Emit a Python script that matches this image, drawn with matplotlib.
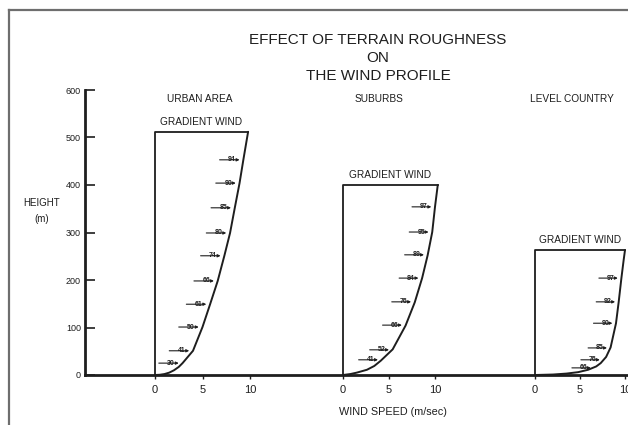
import matplotlib
matplotlib.use("Agg")
import matplotlib.pyplot as plt
from matplotlib.lines import Line2D

plt.rcParams['font.family'] = ['Liberation Sans', 'DejaVu Sans']

# ---------------- data ----------------
height_ticks = [0, 100, 200, 300, 400, 500, 600]
speed_ticks = [0, 5, 10]
panel_titles = ["URBAN AREA", "SUBURBS", "LEVEL COUNTRY"]

# gradient heights (m) and gradient speeds (m/s)
gradient_height = [512, 400, 263]
gradient_speed = [9.8, 10.3, 10.0]

# wind profile curves (speed m/s, height m)
urban_speed = [0, 0.5, 1.0, 1.5, 2.0, 2.5, 2.9, 4.0, 5.0, 5.8, 6.6, 7.3, 7.9, 8.4, 8.9, 9.3, 9.8]
urban_height = [0, 0.5, 2, 5, 10, 17, 25, 51, 101, 149, 198, 251, 299, 352, 404, 453, 512]
suburb_speed = [0, 0.8, 1.5, 2.6, 3.4, 4.1, 5.4, 6.8, 7.8, 8.6, 9.2, 9.7, 10.0, 10.3]
suburb_height = [0, 2, 5, 11, 19, 30, 54, 104, 153, 204, 252, 301, 354, 400]
country_speed = [0, 2.0, 3.5, 4.8, 5.9, 6.8, 7.3, 7.9, 8.4, 9.0, 9.3, 9.6, 9.85, 10.0]
country_height = [0, 1, 3, 6, 11, 18, 25, 38, 58, 109, 154, 204, 242, 263]

# arrows: heights (m), speed at the curve (m/s), printed percentage
urban_arrow_h = [453, 404, 352, 299, 251, 198, 149, 101, 51, 25]
urban_arrow_v = [9.3, 8.9, 8.4, 7.9, 7.3, 6.6, 5.8, 5.0, 4.0, 2.9]
urban_arrow_lbl = ["94", "90", "85", "80", "74", "66", "61", "50", "41", "30"]
suburb_arrow_h = [354, 301, 253, 204, 154, 105, 53, 32]
suburb_arrow_v = [10.0, 9.7, 9.2, 8.6, 7.8, 6.8, 5.4, 4.2]
suburb_arrow_lbl = ["97", "95", "89", "84", "76", "66", "52", "41"]
country_arrow_h = [204, 154, 109, 57, 32, 15]
country_arrow_v = [9.6, 9.3, 9.0, 8.4, 7.6, 6.6]
country_arrow_lbl = ["97", "92", "90", "85", "76", "66"]

curves = [(urban_speed, urban_height), (suburb_speed, suburb_height),
          (country_speed, country_height)]
arrows = [(urban_arrow_h, urban_arrow_v, urban_arrow_lbl),
          (suburb_arrow_h, suburb_arrow_v, suburb_arrow_lbl),
          (country_arrow_h, country_arrow_v, country_arrow_lbl)]

# ---------------- layout ----------------
W, H = 628, 425
fig = plt.figure(figsize=(W / 100, H / 100), dpi=100)
fig.patch.set_facecolor('white')
INK = '#1e1e1e'

def fx(x):
    return x / W

def fy(y):
    return 1 - y / H

y0_px, y600_px = 375, 90
ax_bottom = fy(y0_px)
ax_height = (y0_px - y600_px) / H

# border of scanned page
fig.add_artist(Line2D([fx(9), fx(9)], [0, fy(10)], color='#6e6e6e', lw=1.6))
fig.add_artist(Line2D([fx(9), 1], [fy(10), fy(10)], color='#6e6e6e', lw=1.6))

# main height axis
ax = fig.add_axes([fx(85), ax_bottom, 1 - fx(85), ax_height])
ax.set_facecolor('none')
ax.set_ylim(0, 600)
ax.set_xlim(0, 1)
for s in ['top', 'right']:
    ax.spines[s].set_visible(False)
for s in ['left', 'bottom']:
    ax.spines[s].set_linewidth(2.0)
    ax.spines[s].set_color(INK)
ax.set_xticks([])
ax.set_yticks(height_ticks)
ax.set_yticklabels([str(t) for t in height_ticks])
ax.tick_params(axis='y', direction='in', length=7, width=1.2, colors=INK,
               labelsize=6.5, pad=3)

# panels
panel_px = [(155, 250), (343, 435), (535, 625)]
for i, (x0, x10) in enumerate(panel_px):
    pax = fig.add_axes([fx(x0), ax_bottom, (x10 - x0) / W, ax_height])
    pax.set_facecolor('none')
    pax.set_xlim(0, 10)
    pax.set_ylim(0, 600)
    for s in pax.spines.values():
        s.set_visible(False)
    pax.set_yticks([])
    pax.set_xticks(speed_ticks)
    pax.set_xticklabels([str(t) for t in speed_ticks])
    pax.tick_params(axis='x', direction='out', length=3, width=1.0,
                    colors=INK, labelsize=8, pad=4)
    Hg = gradient_height[i]
    Vg = gradient_speed[i]
    # gradient box
    pax.plot([0, 0, Vg], [0, Hg, Hg], color=INK, lw=1.3, clip_on=False)
    sp, hh = curves[i]
    pax.plot(sp, hh, color=INK, lw=1.4, clip_on=False, solid_capstyle='round',
             solid_joinstyle='round')
    pax.text(Vg / 2, Hg + 10, "GRADIENT WIND", ha='center', va='bottom',
             fontsize=7.3, color=INK)
    ah, av, al = arrows[i]
    for h, v, lbl in zip(ah, av, al):
        pax.annotate('', xy=(v - 0.4, h), xytext=(v - 2.5, h),
                     arrowprops=dict(arrowstyle='-|>', color=INK, lw=0.8,
                                     mutation_scale=4, shrinkA=0, shrinkB=0),
                     annotation_clip=False)
        pax.text(v - 1.2, h, lbl, ha='center', va='center', fontsize=5,
                 fontweight='bold', color=INK)

# titles and labels
fig.text(fx(378), fy(40), "EFFECT OF TERRAIN ROUGHNESS", ha='center',
         va='center', fontsize=11, color=INK)
fig.text(fx(378), fy(58), "ON", ha='center', va='center', fontsize=11, color=INK)
fig.text(fx(378), fy(76), "THE WIND PROFILE", ha='center', va='center',
         fontsize=11, color=INK)
title_px = [(200, 99), (379, 99), (572, 99)]
for t, (x, y) in zip(panel_titles, title_px):
    fig.text(fx(x), fy(y), t, ha='center', va='center', fontsize=7.3, color=INK)
fig.text(fx(42), fy(203), "HEIGHT", ha='center', va='center',
         fontsize=7, color=INK)
fig.text(fx(42), fy(219), "(m)", ha='center', va='center',
         fontsize=7, color=INK)
fig.text(fx(393), fy(412), "WIND SPEED (m/sec)", ha='center', va='center',
         fontsize=7.8, color=INK)

fig.savefig("out.png", dpi=100, facecolor='white')
